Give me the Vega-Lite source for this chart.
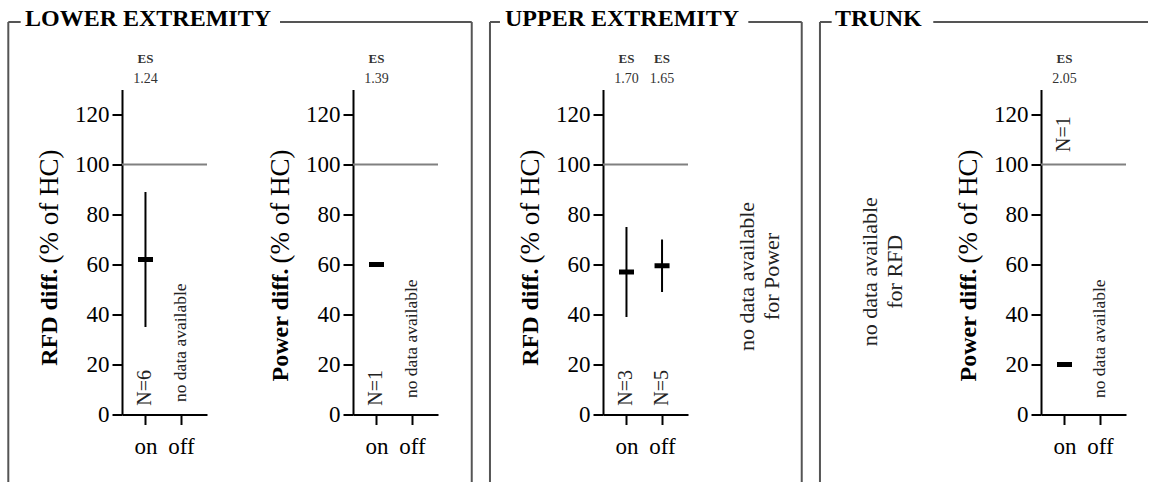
{
  "$schema": "https://vega.github.io/schema/vega-lite/v6.json",
  "padding": {"left": 7, "top": 6.5, "right": 0, "bottom": 0},
  "autosize": {"type": "pad"},
  "background": "white",
  "bounds": "flush",
  "spacing": 0,
  "datasets": {
    "d": [
      {"panel": "LE_RFD", "condition": "on", "mean": 62, "lo": 35, "hi": 89, "n": "N=6", "es": "1.24"},
      {"panel": "LE_RFD", "condition": "off", "mean": null, "lo": null, "hi": null, "n": null, "es": null},
      {"panel": "LE_Power", "condition": "on", "mean": 60, "lo": null, "hi": null, "n": "N=1", "es": "1.39"},
      {"panel": "LE_Power", "condition": "off", "mean": null, "lo": null, "hi": null, "n": null, "es": null},
      {"panel": "UE_RFD", "condition": "on", "mean": 57, "lo": 39, "hi": 75, "n": "N=3", "es": "1.70"},
      {"panel": "UE_RFD", "condition": "off", "mean": 59.5, "lo": 49, "hi": 70, "n": "N=5", "es": "1.65"},
      {"panel": "TR_Power", "condition": "on", "mean": 20, "lo": null, "hi": null, "n": "N=1", "es": "2.05"},
      {"panel": "TR_Power", "condition": "off", "mean": null, "lo": null, "hi": null, "n": null, "es": null}
    ]
  },
  "hconcat": [
        {
          "width": 85, "height": 325,
          "data": {"name": "d"},
          "transform": [{"filter": "datum.panel === 'LE_RFD'"}, {"calculate": "datum.condition === 'on' ? 1 : 2", "as": "xi"}],
          "layer": [
            {"data": {"values": [{}]}, "mark": {"type": "rule", "color": "#808080", "strokeWidth": 2},
             "encoding": {"y": {"datum": 100, "type": "quantitative", "scale": {"domain": [0, 130], "nice": false, "zero": false},
               "axis": {"values": [0,10,20,30,40,50,60,70,80,90,100,110,120,130], "labelExpr": "datum.value % 20 === 0 && datum.value <= 120 ? datum.label : ''", "title": null, "labelPadding": 3, "tickSize": {"condition": {"test": "datum.value % 20 === 0", "value": 10}, "value": 5}}}}},
            {"mark": {"type": "rule", "color": "black", "strokeWidth": 2},
             "encoding": {"x": {"field": "xi", "type": "quantitative", "scale": {"domain": [0.34, 2.73], "nice": false, "zero": false},
               "axis": {"values": [1, 2], "labelExpr": "datum.value === 1 ? 'on' : 'off'", "title": null, "tickSize": 10, "labelPadding": 11, "labelAngle": 0}},
               "y": {"field": "lo", "type": "quantitative"}, "y2": {"field": "hi"}}},
            {"mark": {"type": "tick", "orient": "horizontal", "size": 15, "thickness": 5, "color": "black", "opacity": 1},
             "encoding": {"x": {"field": "xi", "type": "quantitative"}, "y": {"field": "mean", "type": "quantitative"}}},
            {"transform": [{"filter": "datum.n != null"}], "mark": {"type": "text", "angle": 270, "align": "left", "baseline": "middle", "fontSize": 20, "color": "#222"},
             "encoding": {"x": {"field": "xi", "type": "quantitative"}, "y": {"datum": 3.5}, "text": {"field": "n"}}},
            {"transform": [{"filter": "datum.mean == null"}], "mark": {"type": "text", "text": "no data available", "angle": 270, "align": "left", "baseline": "middle", "fontSize": 17.5, "color": "#222"},
             "encoding": {"x": {"field": "xi", "type": "quantitative"}, "y": {"datum": 5}}},
            {"transform": [{"filter": "datum.es != null"}], "mark": {"type": "text", "text": "ES", "fontSize": 13, "fontWeight": "bold", "color": "#333"},
             "encoding": {"x": {"field": "xi", "type": "quantitative"}, "y": {"datum": 142.2}}},
            {"transform": [{"filter": "datum.es != null"}], "mark": {"type": "text", "fontSize": 14, "color": "#333"},
             "encoding": {"x": {"field": "xi", "type": "quantitative"}, "y": {"datum": 134.3}, "text": {"field": "es"}}},
            {"data": {"values": [{}]}, "mark": {"type": "text", "text": "RFD diff.", "angle": 270, "align": "right", "baseline": "middle", "fontSize": 24, "fontWeight": "bold", "color": "black"},
             "encoding": {"x": {"datum": -1.69}, "y": {"datum": 58.4}}},
            {"data": {"values": [{}]}, "mark": {"type": "text", "text": "(% of HC)", "angle": 270, "align": "left", "baseline": "middle", "fontSize": 27, "dx": 5, "color": "black"},
             "encoding": {"x": {"datum": -1.69}, "y": {"datum": 58.4}}},
            {"data": {"values": [{}]}, "mark": {"type": "rule", "color": "#555", "strokeWidth": 2},
             "encoding": {"x": {"datum": -2.857}, "y": {"datum": 157}, "y2": {"datum": -27}}},
            {"data": {"values": [{}]}, "mark": {"type": "rule", "color": "#555", "strokeWidth": 2},
             "encoding": {"x": {"datum": -2.857}, "x2": {"datum": -2.509}, "y": {"datum": 157}}},
            {"data": {"values": [{}]}, "mark": {"type": "rule", "color": "#555", "strokeWidth": 2},
             "encoding": {"x": {"datum": 4.783}, "x2": {"datum": 10.174}, "y": {"datum": 157}}},
            {"data": {"values": [{}]}, "mark": {"type": "rule", "color": "#555", "strokeWidth": 2},
             "encoding": {"x": {"datum": 10.174}, "y": {"datum": 157}, "y2": {"datum": -27}}},
            {"data": {"values": [{}]}, "mark": {"type": "text", "text": "LOWER EXTREMITY", "align": "left", "baseline": "alphabetic", "fontSize": 24, "fontWeight": "bold", "color": "black"},
             "encoding": {"x": {"datum": -2.388}, "y": {"datum": 155.4}}}
          ]
        },
        {"width": 146, "height": 325, "data": {"values": []}, "mark": "point"},
        {
          "width": 85, "height": 325,
          "data": {"name": "d"},
          "transform": [{"filter": "datum.panel === 'LE_Power'"}, {"calculate": "datum.condition === 'on' ? 1 : 2", "as": "xi"}],
          "layer": [
            {"data": {"values": [{}]}, "mark": {"type": "rule", "color": "#808080", "strokeWidth": 2},
             "encoding": {"y": {"datum": 100, "type": "quantitative", "scale": {"domain": [0, 130], "nice": false, "zero": false},
               "axis": {"values": [0,10,20,30,40,50,60,70,80,90,100,110,120,130], "labelExpr": "datum.value % 20 === 0 && datum.value <= 120 ? datum.label : ''", "title": null, "labelPadding": 3, "tickSize": {"condition": {"test": "datum.value % 20 === 0", "value": 10}, "value": 5}}}}},
            {"mark": {"type": "rule", "color": "black", "strokeWidth": 2},
             "encoding": {"x": {"field": "xi", "type": "quantitative", "scale": {"domain": [0.34, 2.73], "nice": false, "zero": false},
               "axis": {"values": [1, 2], "labelExpr": "datum.value === 1 ? 'on' : 'off'", "title": null, "tickSize": 10, "labelPadding": 11, "labelAngle": 0}},
               "y": {"field": "lo", "type": "quantitative"}, "y2": {"field": "hi"}}},
            {"mark": {"type": "tick", "orient": "horizontal", "size": 15, "thickness": 5, "color": "black", "opacity": 1},
             "encoding": {"x": {"field": "xi", "type": "quantitative"}, "y": {"field": "mean", "type": "quantitative"}}},
            {"transform": [{"filter": "datum.n != null"}], "mark": {"type": "text", "angle": 270, "align": "left", "baseline": "middle", "fontSize": 20, "color": "#222"},
             "encoding": {"x": {"field": "xi", "type": "quantitative"}, "y": {"datum": 3.5}, "text": {"field": "n"}}},
            {"transform": [{"filter": "datum.mean == null"}], "mark": {"type": "text", "text": "no data available", "angle": 270, "align": "left", "baseline": "middle", "fontSize": 17.5, "color": "#222"},
             "encoding": {"x": {"field": "xi", "type": "quantitative"}, "y": {"datum": 6.6}}},
            {"transform": [{"filter": "datum.es != null"}], "mark": {"type": "text", "text": "ES", "fontSize": 13, "fontWeight": "bold", "color": "#333"},
             "encoding": {"x": {"field": "xi", "type": "quantitative"}, "y": {"datum": 142.2}}},
            {"transform": [{"filter": "datum.es != null"}], "mark": {"type": "text", "fontSize": 14, "color": "#333"},
             "encoding": {"x": {"field": "xi", "type": "quantitative"}, "y": {"datum": 134.3}, "text": {"field": "es"}}},
            {"data": {"values": [{}]}, "mark": {"type": "text", "text": "Power diff.", "angle": 270, "align": "right", "baseline": "middle", "fontSize": 24, "fontWeight": "bold", "color": "black"},
             "encoding": {"x": {"datum": -1.69}, "y": {"datum": 58.4}}},
            {"data": {"values": [{}]}, "mark": {"type": "text", "text": "(% of HC)", "angle": 270, "align": "left", "baseline": "middle", "fontSize": 27, "dx": 5, "color": "black"},
             "encoding": {"x": {"datum": -1.69}, "y": {"datum": 58.4}}}
          ]
        },
        {"width": 165, "height": 325, "data": {"values": []}, "mark": "point"},
        {
          "width": 85, "height": 325,
          "data": {"name": "d"},
          "transform": [{"filter": "datum.panel === 'UE_RFD'"}, {"calculate": "datum.condition === 'on' ? 1 : 2", "as": "xi"}],
          "layer": [
            {"data": {"values": [{}]}, "mark": {"type": "rule", "color": "#808080", "strokeWidth": 2},
             "encoding": {"y": {"datum": 100, "type": "quantitative", "scale": {"domain": [0, 130], "nice": false, "zero": false},
               "axis": {"values": [0,10,20,30,40,50,60,70,80,90,100,110,120,130], "labelExpr": "datum.value % 20 === 0 && datum.value <= 120 ? datum.label : ''", "title": null, "labelPadding": 3, "tickSize": {"condition": {"test": "datum.value % 20 === 0", "value": 10}, "value": 5}}}}},
            {"mark": {"type": "rule", "color": "black", "strokeWidth": 2},
             "encoding": {"x": {"field": "xi", "type": "quantitative", "scale": {"domain": [0.34, 2.73], "nice": false, "zero": false},
               "axis": {"values": [1, 2], "labelExpr": "datum.value === 1 ? 'on' : 'off'", "title": null, "tickSize": 10, "labelPadding": 11, "labelAngle": 0}},
               "y": {"field": "lo", "type": "quantitative"}, "y2": {"field": "hi"}}},
            {"mark": {"type": "tick", "orient": "horizontal", "size": 15, "thickness": 5, "color": "black", "opacity": 1},
             "encoding": {"x": {"field": "xi", "type": "quantitative"}, "y": {"field": "mean", "type": "quantitative"}}},
            {"transform": [{"filter": "datum.n != null"}], "mark": {"type": "text", "angle": 270, "align": "left", "baseline": "middle", "fontSize": 20, "color": "#222"},
             "encoding": {"x": {"field": "xi", "type": "quantitative"}, "y": {"datum": 3.5}, "text": {"field": "n"}}},
            {"transform": [{"filter": "datum.es != null"}], "mark": {"type": "text", "text": "ES", "fontSize": 13, "fontWeight": "bold", "color": "#333"},
             "encoding": {"x": {"field": "xi", "type": "quantitative"}, "y": {"datum": 142.2}}},
            {"transform": [{"filter": "datum.es != null"}], "mark": {"type": "text", "fontSize": 14, "color": "#333"},
             "encoding": {"x": {"field": "xi", "type": "quantitative"}, "y": {"datum": 134.3}, "text": {"field": "es"}}},
            {"data": {"values": [{}]}, "mark": {"type": "text", "text": "RFD diff.", "angle": 270, "align": "right", "baseline": "middle", "fontSize": 24, "fontWeight": "bold", "color": "black"},
             "encoding": {"x": {"datum": -1.69}, "y": {"datum": 58.4}}},
            {"data": {"values": [{}]}, "mark": {"type": "text", "text": "(% of HC)", "angle": 270, "align": "left", "baseline": "middle", "fontSize": 27, "dx": 5, "color": "black"},
             "encoding": {"x": {"datum": -1.69}, "y": {"datum": 58.4}}},
            {"data": {"values": [{}]}, "mark": {"type": "text", "text": ["no data available", "for Power"], "angle": 270, "align": "center", "baseline": "middle", "fontSize": 22, "lineHeight": 25, "color": "#222"},
             "encoding": {"x": {"datum": 4.381}, "y": {"datum": 55.2}}},
            {"data": {"values": [{}]}, "mark": {"type": "rule", "color": "#555", "strokeWidth": 2},
             "encoding": {"x": {"datum": -2.838}, "y": {"datum": 157}, "y2": {"datum": -27}}},
            {"data": {"values": [{}]}, "mark": {"type": "rule", "color": "#555", "strokeWidth": 2},
             "encoding": {"x": {"datum": -2.838}, "x2": {"datum": -2.557}, "y": {"datum": 157}}},
            {"data": {"values": [{}]}, "mark": {"type": "rule", "color": "#555", "strokeWidth": 2},
             "encoding": {"x": {"datum": 4.426}, "x2": {"datum": 5.928}, "y": {"datum": 157}}},
            {"data": {"values": [{}]}, "mark": {"type": "rule", "color": "#555", "strokeWidth": 2},
             "encoding": {"x": {"datum": 5.928}, "y": {"datum": 157}, "y2": {"datum": -27}}},
            {"data": {"values": [{}]}, "mark": {"type": "text", "text": "UPPER EXTREMITY", "align": "left", "baseline": "alphabetic", "fontSize": 24, "fontWeight": "bold", "color": "black"},
             "encoding": {"x": {"datum": -2.416}, "y": {"datum": 155.4}}}
          ]
        },
        {"width": 353, "height": 325, "data": {"values": []}, "mark": "point"},
        {
          "width": 85, "height": 325,
          "data": {"name": "d"},
          "transform": [{"filter": "datum.panel === 'TR_Power'"}, {"calculate": "datum.condition === 'on' ? 1 : 2", "as": "xi"}],
          "layer": [
            {"data": {"values": [{}]}, "mark": {"type": "rule", "color": "#808080", "strokeWidth": 2},
             "encoding": {"y": {"datum": 100, "type": "quantitative", "scale": {"domain": [0, 130], "nice": false, "zero": false},
               "axis": {"values": [0,10,20,30,40,50,60,70,80,90,100,110,120,130], "labelExpr": "datum.value % 20 === 0 && datum.value <= 120 ? datum.label : ''", "title": null, "labelPadding": 3, "tickSize": {"condition": {"test": "datum.value % 20 === 0", "value": 10}, "value": 5}}}}},
            {"mark": {"type": "rule", "color": "black", "strokeWidth": 2},
             "encoding": {"x": {"field": "xi", "type": "quantitative", "scale": {"domain": [0.34, 2.73], "nice": false, "zero": false},
               "axis": {"values": [1, 2], "labelExpr": "datum.value === 1 ? 'on' : 'off'", "title": null, "tickSize": 10, "labelPadding": 11, "labelAngle": 0}},
               "y": {"field": "lo", "type": "quantitative"}, "y2": {"field": "hi"}}},
            {"mark": {"type": "tick", "orient": "horizontal", "size": 15, "thickness": 5, "color": "black", "opacity": 1},
             "encoding": {"x": {"field": "xi", "type": "quantitative"}, "y": {"field": "mean", "type": "quantitative"}}},
            {"transform": [{"filter": "datum.n != null"}], "mark": {"type": "text", "angle": 270, "align": "left", "baseline": "middle", "fontSize": 20, "color": "#222"},
             "encoding": {"x": {"field": "xi", "type": "quantitative"}, "y": {"datum": 105}, "text": {"field": "n"}}},
            {"transform": [{"filter": "datum.mean == null"}], "mark": {"type": "text", "text": "no data available", "angle": 270, "align": "left", "baseline": "middle", "fontSize": 17.5, "color": "#222"},
             "encoding": {"x": {"field": "xi", "type": "quantitative"}, "y": {"datum": 6.6}}},
            {"transform": [{"filter": "datum.es != null"}], "mark": {"type": "text", "text": "ES", "fontSize": 13, "fontWeight": "bold", "color": "#333"},
             "encoding": {"x": {"field": "xi", "type": "quantitative"}, "y": {"datum": 142.2}}},
            {"transform": [{"filter": "datum.es != null"}], "mark": {"type": "text", "fontSize": 14, "color": "#333"},
             "encoding": {"x": {"field": "xi", "type": "quantitative"}, "y": {"datum": 134.3}, "text": {"field": "es"}}},
            {"data": {"values": [{}]}, "mark": {"type": "text", "text": "Power diff.", "angle": 270, "align": "right", "baseline": "middle", "fontSize": 24, "fontWeight": "bold", "color": "black"},
             "encoding": {"x": {"datum": -1.69}, "y": {"datum": 58.4}}},
            {"data": {"values": [{}]}, "mark": {"type": "text", "text": "(% of HC)", "angle": 270, "align": "left", "baseline": "middle", "fontSize": 27, "dx": 5, "color": "black"},
             "encoding": {"x": {"datum": -1.69}, "y": {"datum": 58.4}}},
            {"data": {"values": [{}]}, "mark": {"type": "text", "text": ["no data available", "for RFD"], "angle": 270, "align": "center", "baseline": "middle", "fontSize": 22, "lineHeight": 25, "color": "#222"},
             "encoding": {"x": {"datum": -4.469}, "y": {"datum": 57.1}}},
            {"data": {"values": [{}]}, "mark": {"type": "rule", "color": "#555", "strokeWidth": 2},
             "encoding": {"x": {"datum": -5.875}, "y": {"datum": 157}, "y2": {"datum": -27}}},
            {"data": {"values": [{}]}, "mark": {"type": "rule", "color": "#555", "strokeWidth": 2},
             "encoding": {"x": {"datum": -5.875}, "x2": {"datum": -5.546}, "y": {"datum": 157}}},
            {"data": {"values": [{}]}, "mark": {"type": "rule", "color": "#555", "strokeWidth": 2},
             "encoding": {"x": {"datum": -2.689}, "x2": {"datum": 3.349}, "y": {"datum": 157}}},
            {"data": {"values": [{}]}, "mark": {"type": "text", "text": "TRUNK", "align": "left", "baseline": "alphabetic", "fontSize": 24, "fontWeight": "bold", "color": "black"},
             "encoding": {"x": {"datum": -5.453}, "y": {"datum": 155.4}}}
          ]
        }
  ],
  "config": {
    "font": "Liberation Serif",
    "view": {"stroke": null},
    "axis": {"domainColor": "black", "domainWidth": 2, "tickColor": "black", "tickWidth": 2, "labelFont": "Liberation Serif", "labelFontSize": 23, "labelColor": "black", "grid": false}
  }
}
